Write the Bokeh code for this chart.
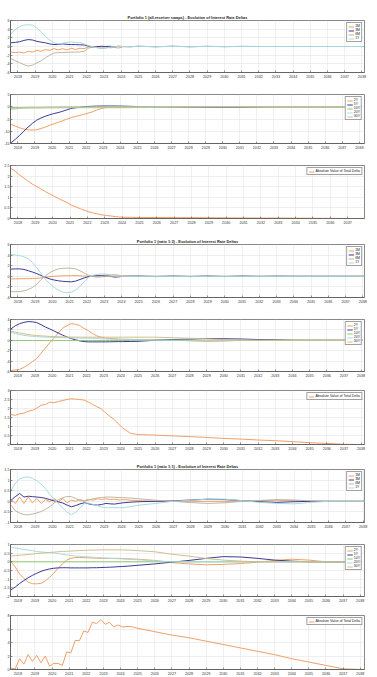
from bokeh.plotting import figure
from bokeh.layouts import column
from bokeh.models import Range1d, FixedTicker, NumeralTickFormatter, Legend, LegendItem, Label
from bokeh.embed import file_html
from bokeh.resources import INLINE

FONT = "Liberation Sans"

# Observation dates (fractional years)
DATES = [2017.6, 2017.85, 2018.1, 2018.35, 2018.6, 2018.85, 2019.1, 2019.35, 2019.6, 2019.85,
         2020.1, 2020.35, 2020.6, 2020.85, 2021.1, 2021.35, 2021.6, 2021.85, 2022.1, 2022.35,
         2022.6, 2022.85, 2023.1, 2023.35, 2023.6, 2023.85, 2024.1, 2024.55, 2025, 2026,
         2027, 2028, 2029, 2030, 2031, 2032, 2033, 2034, 2035, 2036, 2037, 2038.1]
YEARS = [2018, 2019, 2020, 2021, 2022, 2023, 2024, 2025, 2026, 2027, 2028, 2029, 2030,
         2031, 2032, 2033, 2034, 2035, 2036, 2037, 2038]

SHORT_TENORS = ["1M", "3M", "6M", "1Y"]
LONG_TENORS = ["2Y", "5Y", "10Y", "20Y", "30Y"]

# ---- Portfolio 1, all-receiver swaps (x10^4 / x10^5) ----
p1_1m = [-1.3, -1.4, -1.3, -1.5, -1.1, -1.3, -0.9, -1.1, -0.7, -0.9, -0.5, -0.8, -0.5, -0.8, -0.4, -0.7,
         -0.4, -0.5, -0.1, -0.2, 0.05, -0.15, -0.05, -0.3, -0.2, -0.35, -0.05,
         0, 0, 0, 0, 0, 0, 0, 0, 0, 0, 0, 0, 0, 0, 0]
p1_3m = [0.85, 0.95, 1.1, 1.4, 1.6, 1.5, 1.2, 1.0, 0.85, 0.6, 0.45, 0.5, 0.6, 0.5, 0.45, 0.45,
         0.4, 0.35, 0.1, -0.15, -0.05, 0.05, 0.0, 0.05, -0.05, 0.05, 0.0,
         -0.05, 0.05, -0.05, 0.05, -0.05, 0.03, -0.03, 0.02, 0, 0, 0, 0, 0, 0, 0]
p1_6m = [-2.8, -3.3, -3.7, -4.2, -4.5, -4.3, -3.8, -3.3, -2.6, -2.0, -1.5, -1.4, -1.4, -1.35, -1.3, -1.3,
         -1.25, -1.1, -0.4, -0.1, -0.2, -0.45, -0.35, -0.2, -0.05, 0, 0,
         0, 0, 0, 0, 0, 0, 0, 0, 0, 0, 0, 0, 0, 0, 0]
p1_1y = [3.0, 3.9, 4.6, 4.95, 5.0, 4.95, 4.3, 3.4, 2.3, 1.5, 0.85, 0.6, 0.75, 0.95, 1.05, 0.95,
         0.9, 0.6, 0.2, -0.15, -0.3, -0.45, -0.3, -0.15, -0.05, 0, 0,
         0, 0, 0, 0, 0, 0, 0, 0, 0, 0, 0, 0, 0, 0, 0]
p2_2y = [-7.2, -7.9, -8.6, -9.1, -9.4, -9.5, -9.4, -8.9, -8.3, -7.6, -7.0, -6.4, -5.8, -5.1, -4.5, -4.0,
         -3.6, -3.1, -2.65, -2.1, -1.4, -0.8, -0.4, -0.3, -0.25, -0.25, -0.25,
         -0.22, -0.2, -0.1, -0.05, 0, 0.05, 0.05, 0, 0, 0, 0, 0, 0, 0, 0]
p2_5y = [-14.7, -13.3, -11.7, -10.0, -8.3, -6.8, -5.5, -4.6, -3.9, -3.3, -2.8, -2.4, -1.9, -1.3, -0.75, -0.45,
         -0.25, 0.0, 0.1, 0.2, 0.25, 0.3, 0.3, 0.3, 0.3, 0.28, 0.25,
         0.18, 0.1, 0.0, -0.1, -0.15, -0.2, -0.25, -0.2, -0.1, 0, 0, 0, 0, 0, 0]
p2_10y = [-0.3, -0.3, -0.3, -0.25, -0.25, -0.2, -0.2, -0.2, -0.15, -0.15, -0.15, -0.1, -0.1, -0.1, -0.1, -0.05,
          -0.05, -0.05, -0.05, 0, 0, 0, 0, 0, 0, 0, 0,
          0, 0, 0, 0, 0, 0, 0, 0, 0, 0, 0, 0, 0, 0, 0]
p2_20y = [-1.2, -0.9, -0.7, -0.55, -0.5, -0.45, -0.4, -0.4, -0.35, -0.35, -0.3, -0.3, -0.3, -0.25, -0.25, -0.25,
          -0.2, -0.2, -0.2, -0.2, -0.15, -0.15, -0.15, -0.1, -0.1, -0.1, -0.1,
          -0.08, -0.05, 0, 0, 0, 0, 0, 0, 0, 0, 0, 0, 0, 0, 0]
p2_30y = [-0.6, -0.6, -0.55, -0.55, -0.5, -0.5, -0.5, -0.5, -0.5, -0.45, -0.45, -0.45, -0.45, -0.4, -0.4, -0.4,
          -0.4, -0.4, -0.4, -0.4, -0.4, -0.4, -0.4, -0.4, -0.4, -0.4, -0.4,
          -0.38, -0.35, -0.3, -0.15, -0.05, 0, 0, 0, 0, 0, 0, 0, 0, 0, 0]
p3_total = [2.37, 2.22, 2.05, 1.9, 1.75, 1.61, 1.5, 1.38, 1.26, 1.15, 1.04, 0.94, 0.84, 0.74, 0.62, 0.54,
            0.46, 0.38, 0.31, 0.26, 0.21, 0.17, 0.14, 0.12, 0.09, 0.07, 0.06,
            0.055, 0.05, 0.045, 0.04, 0.04, 0.035, 0.03, 0.025, 0.02, 0.02, 0.015, 0.01, 0.005, 0.0, 0.0]

# ---- Portfolio 1, ratio 1:3 ----
p4_1m = [-0.5, -0.48, -0.46, -0.45, -0.44, -0.42, -0.4, -0.3, -0.15, -0.05, 0.0, 0.05, 0.1, 0.1, 0.12, 0.12,
         0.1, 0.05, 0.0, 0.02, 0.08, 0.15, 0.2, 0.25, 0.3, 0.2, 0.05,
         0, 0, 0, 0, 0, 0, 0, 0, 0, 0, 0, 0, 0, 0, 0]
p4_3m = [1.35, 1.4, 1.4, 1.3, 1.05, 0.8, 0.5, 0.15, -0.2, -0.5, -0.7, -0.85, -0.95, -1.0, -1.05, -0.9,
         -0.6, -0.3, -0.05, 0.05, 0.1, 0.1, 0.05, 0.0, -0.15, -0.1, 0.0,
         0.03, 0.05, -0.05, 0.05, -0.05, 0.05, -0.05, 0.05, -0.03, 0.03, 0, 0, 0, 0, 0]
p4_6m = [-2.9, -2.9, -2.9, -2.75, -2.5, -2.1, -1.5, -0.6, 0.1, 0.7, 1.1, 1.4, 1.5, 1.55, 1.5, 1.4,
         1.05, 0.6, 0.2, -0.05, -0.15, -0.1, -0.05, 0, 0, 0, 0,
         0, 0, 0, 0, 0, 0, 0, 0, 0, 0, 0, 0, 0, 0, 0]
p4_1y = [4.1, 4.0, 3.9, 3.7, 3.3, 2.6, 1.6, 0.5, -0.6, -1.4, -2.1, -2.6, -3.0, -3.1, -3.0, -2.6,
         -1.9, -1.0, -0.2, 0.2, 0.35, 0.45, 0.45, 0.3, 0.15, 0.05, 0,
         0, 0, 0, 0, 0, 0, 0, 0, 0, 0, 0, 0, 0, 0, 0]
p5_2y = [-5.8, -5.7, -5.6, -5.2, -4.7, -4.1, -3.5, -2.5, -1.5, -0.5, 0.4, 1.4, 2.3, 2.8, 3.2, 3.1,
         2.85, 2.3, 1.85, 1.3, 0.85, 0.6, 0.45, 0.35, 0.3, 0.25, 0.2,
         0.18, 0.15, 0.1, 0.05, -0.1, -0.2, -0.15, 0.0, 0.15, 0.1, 0.05, 0, 0, 0, 0]
p5_5y = [2.2, 2.8, 3.2, 3.45, 3.6, 3.55, 3.4, 3.0, 2.55, 2.2, 1.8, 1.4, 1.0, 0.65, 0.35, 0.1,
         -0.1, -0.25, -0.3, -0.3, -0.3, -0.3, -0.3, -0.28, -0.27, -0.25, -0.25,
         -0.22, -0.2, 0.0, 0.15, 0.2, 0.35, 0.3, 0.25, 0.15, 0.1, 0.0, 0, 0, 0, 0]
p5_10y = [-0.05, -0.05, -0.05, -0.05, -0.05, -0.05, -0.05, -0.05, -0.05, -0.05, -0.05, -0.05, -0.05, -0.05,
          -0.05, -0.05, -0.05, -0.05, -0.05, -0.05, -0.05, -0.05, -0.05, -0.05, -0.05, -0.05, -0.05,
          0, 0, 0, 0, 0, 0, 0, 0, 0, 0, 0, 0, 0, 0, 0]
p5_20y = [1.55, 1.3, 1.1, 0.95, 0.85, 0.75, 0.7, 0.65, 0.6, 0.58, 0.55, 0.52, 0.5, 0.48, 0.46, 0.44,
          0.42, 0.41, 0.4, 0.38, 0.35, 0.3, 0.25, 0.22, 0.2, 0.17, 0.15,
          0.12, 0.1, 0.05, 0.02, 0, 0, 0, 0, 0, 0, 0, 0, 0, 0, 0]
p5_30y = [1.75, 1.55, 1.4, 1.25, 1.1, 1.0, 0.92, 0.85, 0.8, 0.75, 0.7, 0.68, 0.66, 0.64, 0.62, 0.61,
          0.6, 0.6, 0.6, 0.6, 0.6, 0.6, 0.6, 0.6, 0.6, 0.6, 0.6,
          0.6, 0.6, 0.6, 0.5, 0.4, 0.3, 0.15, 0.05, 0, 0, 0, 0, 0, 0, 0]
p6_total = [1.66, 1.62, 1.71, 1.74, 1.85, 1.9, 2.02, 2.18, 2.22, 2.35, 2.32, 2.39, 2.44, 2.5, 2.54, 2.52,
            2.5, 2.47, 2.36, 2.23, 2.1, 1.99, 1.77, 1.57, 1.4, 1.15, 0.92,
            0.63, 0.55, 0.52, 0.48, 0.44, 0.39, 0.34, 0.3, 0.25, 0.21, 0.16, 0.1, 0.06, 0.01, 0.0]

# ---- Portfolio 1, ratio 1:1 ----
p7_1m = [0.08, -0.1, 0.2, -0.1, 0.2, -0.07, 0.13, -0.1, 0.08, -0.02, 0.13, -0.02, 0.13, -0.07, 0.05, 0.0,
         0.08, 0.02, 0.1, 0.05, 0.12, 0.08, 0.12, 0.08, 0.1, 0.06, 0.08,
         0.05, 0.03, 0.0, 0.0, 0.0, 0.0, 0.0, 0.0, 0.03, 0.05, 0.03, 0.0, 0, 0, 0]
p7_3m = [0.05, 0.22, 0.37, 0.2, 0.24, 0.22, 0.2, 0.18, 0.14, 0.08, 0.02, -0.03, -0.08, -0.18, -0.26, -0.2,
         -0.12, -0.07, -0.12, -0.16, -0.18, -0.15, -0.1, -0.12, -0.13, -0.1, -0.07,
         -0.04, -0.02, 0.0, 0.02, 0.06, 0.1, 0.08, 0.03, -0.02, -0.05, -0.02, 0.0, 0, 0, 0]
p7_6m = [-0.18, -0.45, -0.55, -0.63, -0.64, -0.6, -0.55, -0.48, -0.38, -0.25, -0.08, 0.08, 0.17, 0.23, 0.22, 0.13,
         0.04, 0.0, 0.05, 0.12, 0.16, 0.18, 0.2, 0.2, 0.19, 0.18, 0.17,
         0.15, 0.12, 0.05, 0.0, -0.06, -0.1, -0.07, 0.0, 0.04, 0.08, 0.06, 0.02, 0, 0, 0]
p7_1y = [0.52, 0.85, 1.05, 1.13, 1.15, 1.08, 0.97, 0.8, 0.6, 0.32, 0.1, -0.12, -0.32, -0.52, -0.64, -0.52,
         -0.3, -0.1, -0.08, -0.15, -0.2, -0.27, -0.3, -0.3, -0.3, -0.3, -0.3,
         -0.25, -0.18, -0.1, 0.0, 0.05, 0.1, 0.1, 0.03, -0.05, -0.1, -0.12, -0.05, 0.0, 0, 0]
p8_2y = [0.0, -0.3, -0.7, -0.95, -1.17, -1.26, -1.27, -1.24, -1.1, -0.9, -0.65, -0.38, -0.12, 0.1, 0.2, 0.25,
         0.25, 0.24, 0.23, 0.22, 0.21, 0.2, 0.2, 0.2, 0.2, 0.2, 0.19,
         0.17, 0.15, 0.08, -0.05, -0.12, -0.17, -0.15, -0.1, -0.02, 0.08, 0.15, 0.1, 0.0, 0, 0]
p8_5y = [-1.62, -1.45, -1.25, -1.08, -0.92, -0.78, -0.66, -0.55, -0.47, -0.41, -0.37, -0.35, -0.34, -0.34, -0.35, -0.35,
         -0.35, -0.35, -0.35, -0.34, -0.34, -0.33, -0.32, -0.31, -0.3, -0.28, -0.27,
         -0.24, -0.2, -0.12, -0.02, 0.08, 0.2, 0.3, 0.28, 0.2, 0.1, 0.04, 0.0, 0, 0, 0]
p8_10y = [0, 0, 0, 0, 0, 0, 0, 0, 0, 0, 0, 0, 0, 0, 0, 0, 0, 0, 0, 0, 0,
          0, 0, 0, 0, 0, 0, 0, 0, 0, 0, 0, 0, 0, 0, 0, 0, 0, 0, 0, 0, 0]
p8_20y = [0.85, 0.8, 0.76, 0.71, 0.68, 0.64, 0.6, 0.57, 0.55, 0.53, 0.51, 0.47, 0.44, 0.4, 0.37, 0.34,
          0.32, 0.3, 0.29, 0.27, 0.25, 0.23, 0.22, 0.2, 0.19, 0.18, 0.17,
          0.14, 0.12, 0.06, 0.0, 0, 0, 0, 0, 0, 0, 0, 0, 0, 0, 0]
p8_30y = [0.33, 0.36, 0.38, 0.4, 0.42, 0.45, 0.48, 0.5, 0.52, 0.54, 0.56, 0.58, 0.6, 0.61, 0.62, 0.64,
          0.65, 0.66, 0.67, 0.68, 0.68, 0.69, 0.69, 0.69, 0.69, 0.69, 0.69,
          0.67, 0.65, 0.58, 0.44, 0.33, 0.19, 0.1, 0.04, 0.0, 0, 0, 0, 0, 0, 0]
p9_total = [0.2, 0.1, 1.6, 0.8, 2.2, 1.2, 2.1, 1.0, 2.0, 0.5, 0.9, 0.9, 0.6, 2.6, 2.5, 4.3,
            4.3, 5.7, 5.5, 7.0, 6.8, 7.4, 6.7, 7.0, 6.3, 6.6, 6.3,
            6.4, 6.1, 5.6, 5.1, 4.7, 4.2, 3.7, 3.2, 2.7, 2.2, 1.6, 1.1, 0.6, 0.1, 0.0]

ORANGE = "#EF9A5E"
NAVY = "#2F2F92"
TAN = "#BDB29C"
CYAN = "#A2D9E0"
GREEN = "#8CC36A"
KHAKI = "#CDBC86"
SHORT_COLORS = [ORANGE, NAVY, TAN, CYAN]
LONG_COLORS = [ORANGE, NAVY, GREEN, CYAN, KHAKI]


def panel(series, labels, colors, y_lo, y_hi, y_ticks, exponent, height, top, bottom, right,
          x_end, title=None):
    p = figure(width=377, height=height, x_range=Range1d(2017.57, x_end),
               y_range=Range1d(y_lo, y_hi), output_backend="svg", toolbar_location=None,
               min_border_left=6, min_border_right=right, min_border_top=top,
               min_border_bottom=bottom, background_fill_color="white")
    if title:
        p.title.text = title
        p.title.align = "center"
        p.title.text_font = FONT
        p.title.text_font_size = "3.9px"
        p.title.text_font_style = "bold"
        p.title.text_color = "#222222"
        p.title.standoff = 1
    else:
        p.title.text = ""

    p.xaxis.ticker = FixedTicker(ticks=YEARS)
    p.yaxis.ticker = FixedTicker(ticks=y_ticks)
    p.yaxis.formatter = NumeralTickFormatter(format="0.[0]")
    for ax in (p.xaxis[0], p.yaxis[0]):
        ax.major_label_text_font = FONT
        ax.major_label_text_font_size = "3.7px"
        ax.major_label_text_color = "#333333"
        ax.major_tick_in = 2
        ax.major_tick_out = 0
        ax.minor_tick_line_color = None
        ax.axis_line_color = "#555555"
        ax.axis_line_width = 0.7
        ax.major_tick_line_color = "#555555"
        ax.major_tick_line_width = 0.6
        ax.major_label_standoff = 1
    p.xaxis.major_label_standoff = 2
    p.grid.grid_line_color = "#e4e4e4"
    p.grid.grid_line_width = 0.6
    p.outline_line_color = "#555555"
    p.outline_line_width = 0.7

    items = []
    for vals, lab, col in zip(series, labels, colors):
        r = p.line(DATES, vals, line_color=col, line_width=0.95)
        items.append(LegendItem(label=lab, renderers=[r]))

    leg = Legend(items=items, location="top_right")
    leg.label_text_font = FONT
    leg.label_text_font_size = "3.5px"
    leg.label_text_color = "#222222"
    leg.label_width = 4
    leg.label_height = 3
    leg.glyph_height = 3
    leg.glyph_width = 6
    leg.spacing = 0
    leg.padding = 1
    leg.margin = 2
    leg.label_standoff = 1
    leg.border_line_color = "#444444"
    leg.border_line_width = 0.6
    p.add_layout(leg)

    p.add_layout(Label(x=2017.57, y=y_hi, text=exponent, text_font="DejaVu Sans",
                       text_font_size="3.4px", text_color="#333333",
                       text_baseline="bottom", text_align="left", y_offset=0.5))
    return p


figs = [
    panel([p1_1m, p1_3m, p1_6m, p1_1y], SHORT_TENORS, SHORT_COLORS, -6, 6, [-6, -4, -2, 0, 2, 4, 6],
          "×10⁴", 84, 20, 12, 11, 2038.15,
          "Portfolio 1 (all-receiver swaps) - Evolution of Interest Rate Deltas"),
    panel([p2_2y, p2_5y, p2_10y, p2_20y, p2_30y], LONG_TENORS, LONG_COLORS, -15, 5, [-15, -10, -5, 0, 5],
          "×10⁴", 71, 10, 12, 4, 2038.3),
    panel([p3_total], ["Absolute Value of Total Delta"], [ORANGE], 0, 2.5, [0, 0.5, 1, 1.5, 2, 2.5],
          "×10⁵", 75, 10, 12, 13, 2037.97),
    panel([p4_1m, p4_3m, p4_6m, p4_1y], SHORT_TENORS, SHORT_COLORS, -4, 6, [-4, -2, 0, 2, 4, 6],
          "×10⁴", 79, 14, 12, 6, 2038.1,
          "Portfolio 1 (ratio 1:3) - Evolution of Interest Rate Deltas"),
    panel([p5_2y, p5_5y, p5_10y, p5_20y, p5_30y], LONG_TENORS, LONG_COLORS, -6, 4, [-6, -4, -2, 0, 2, 4],
          "×10⁴", 74, 10, 12, 6, 2038.2),
    panel([p6_total], ["Absolute Value of Total Delta"], [ORANGE], 0, 3, [0, 0.5, 1, 1.5, 2, 2.5, 3],
          "×10⁴", 73, 7, 12, 6, 2038.2),
    panel([p7_1m, p7_3m, p7_6m, p7_1y], SHORT_TENORS, SHORT_COLORS, -1, 1.5, [-1, -0.5, 0, 0.5, 1, 1.5],
          "×10⁵", 78, 13, 12, 8, 2038.08,
          "Portfolio 1 (ratio 1:1) - Evolution of Interest Rate Deltas"),
    panel([p8_2y, p8_5y, p8_10y, p8_20y, p8_30y], LONG_TENORS, LONG_COLORS, -2, 1,
          [-2, -1.5, -1, -0.5, 0, 0.5, 1], "×10⁵", 74, 10, 12, 4, 2038.25),
    panel([p9_total], ["Absolute Value of Total Delta"], [ORANGE], 0, 8, [0, 2, 4, 6, 8],
          "×10⁴", 69, 7, 8, 9, 2038.25),
]

layout = column(*figs, spacing=0)
open("out.html", "w").write(file_html(layout, INLINE))
